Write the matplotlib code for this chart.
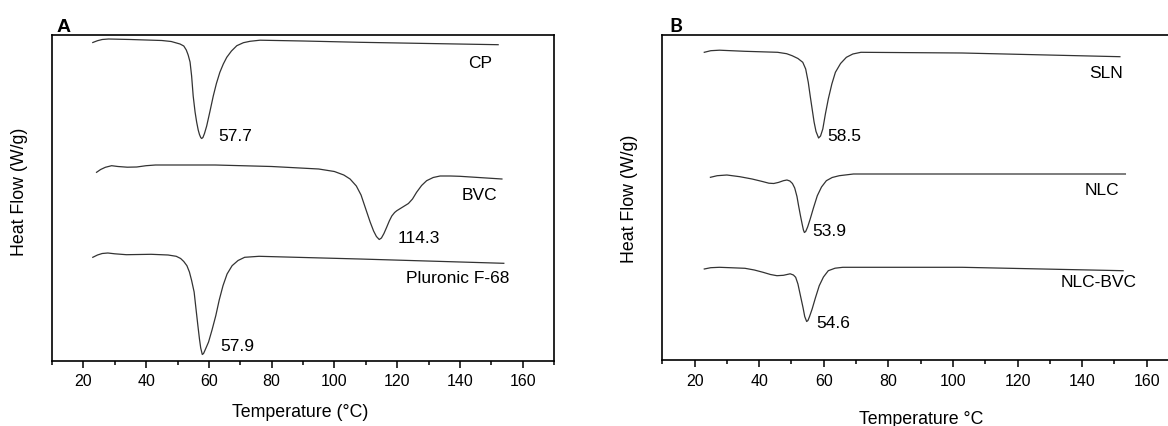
import matplotlib
matplotlib.use("Agg")
import matplotlib.pyplot as plt
from matplotlib.ticker import MultipleLocator, NullLocator

plt.rcParams['font.family'] = ['Liberation Sans', 'DejaVu Sans']

# ---------------- Panel A data ----------------
cp_T = [23.0, 24.5, 26.0, 28.0, 35.0, 45.0, 48.0, 50.8, 52.0, 52.8, 53.4, 54.0, 54.5, 55.0,
        55.6, 56.1, 56.6, 57.0, 57.4, 57.7, 58.1, 58.6, 59.3, 60.3, 61.4, 62.4, 63.5, 64.6,
        65.7, 67.2, 68.9, 71.0, 73.1, 76.3, 90.0, 108.1, 130.0, 152.2]
cp_y = [318.5, 320.3, 321.5, 322.0, 321.5, 320.5, 319.5, 317.0, 315.0, 311.0, 306.0, 299.0,
        285.0, 265.0, 249.0, 239.0, 231.0, 226.5, 223.5, 222.5, 223.5, 227.5, 235.0, 249.0,
        265.0, 277.5, 288.7, 297.0, 303.7, 310.0, 315.3, 318.3, 319.7, 320.8, 320.0, 318.7,
        317.5, 316.3]

bvc_T = [24.2, 25.5, 27.0, 29.0, 31.0, 34.0, 37.0, 40.0, 43.0, 62.0, 80.0, 95.0, 100.0,
         103.0, 105.0, 107.0, 108.5, 110.0, 111.4, 112.5, 113.4, 114.3, 115.0, 115.8, 116.7,
         117.5, 118.3, 119.2, 119.9, 121.8, 123.6, 124.9, 126.2, 127.8, 129.4, 131.5, 133.7,
         137.0, 140.0, 153.4]
bvc_y = [188.7, 191.5, 193.7, 195.3, 194.5, 193.8, 194.0, 195.3, 196.0, 196.0, 194.5, 192.0,
         189.5, 186.0, 182.0, 175.0, 166.0, 152.0, 139.0, 130.0, 124.5, 121.5, 123.0, 127.5,
         134.0, 140.0, 145.0, 148.5, 150.3, 154.0, 157.5, 162.0, 168.7, 175.5, 180.3, 183.5,
         185.0, 185.0, 184.7, 182.0]

plu_T = [23.0, 24.5, 26.0, 27.8, 30.0, 33.7, 41.6, 47.0, 49.6, 51.0, 52.0, 53.0, 53.8, 54.5,
         55.3, 55.9, 56.5, 57.0, 57.4, 57.9, 58.3, 58.8, 59.9, 61.0, 62.2, 63.3, 64.5, 65.8,
         67.4, 69.3, 71.4, 76.0, 108.1, 154.0]
plu_y = [103.7, 106.0, 107.5, 108.0, 107.2, 106.3, 106.7, 106.0, 104.7, 102.5, 99.5, 95.3,
         89.0, 80.5, 69.0, 52.0, 35.3, 22.0, 13.0, 6.5, 7.5, 11.0, 19.0, 31.0, 45.3, 61.0,
         75.3, 87.0, 95.3, 100.5, 103.7, 104.7, 102.0, 97.7]

names_A = ['CP', 'BVC', 'Pluronic F-68']
peaks_A = ['57.7', '114.3', '57.9']

# ---------------- Panel B data ----------------
sln_T = [23.0, 25.0, 27.7, 35.6, 45.7, 48.5, 50.2, 52.0, 53.5, 54.4, 55.2, 55.8, 56.4, 57.0,
         57.6, 58.4, 59.0, 59.7, 60.5, 61.4, 62.5, 63.6, 65.2, 67.0, 69.0, 71.5, 102.9, 151.7]
sln_y = [307.7, 309.3, 309.8, 308.7, 307.7, 306.3, 304.3, 301.5, 297.7, 291.0, 277.7, 264.0,
         251.0, 238.0, 228.5, 222.0, 224.0, 231.0, 246.0, 261.0, 276.0, 287.7, 296.5, 302.7,
         306.0, 307.7, 307.0, 303.3]

nlc_T = [24.9, 27.0, 30.0, 34.0, 37.8, 41.0, 43.0, 44.5, 46.0, 47.5, 48.6, 49.5, 50.3, 51.0,
         51.7, 52.2, 52.8, 53.3, 53.7, 54.0, 54.4, 55.0, 55.8, 56.8, 58.0, 59.3, 60.8, 62.6,
         64.8, 69.2, 102.9, 153.4]
nlc_y = [182.7, 184.3, 185.0, 183.3, 181.0, 178.5, 176.8, 176.5, 177.6, 179.3, 180.0, 179.0,
         176.5, 172.0, 163.5, 154.3, 144.0, 136.0, 130.0, 127.5, 128.5, 133.0, 141.0, 152.0,
         164.3, 173.0, 179.3, 182.5, 184.3, 186.0, 186.0, 186.0]

nb_T = [23.0, 25.0, 27.7, 31.0, 35.6, 38.5, 41.2, 43.5, 45.5, 47.5, 49.6, 50.6, 51.3, 52.0,
        52.6, 53.0, 53.6, 54.1, 54.7, 55.1, 55.6, 56.4, 57.4, 58.6, 59.9, 61.4, 63.5, 65.9,
        102.9, 152.7]
nb_y = [91.0, 92.3, 92.7, 92.3, 91.7, 90.0, 87.7, 85.5, 84.3, 84.7, 86.2, 85.0, 82.7, 76.0,
        67.0, 61.0, 52.0, 43.5, 38.5, 39.5, 43.5, 51.0, 62.0, 74.3, 83.0, 89.3, 91.8, 92.7,
        92.7, 89.3]

names_B = ['SLN', 'NLC', 'NLC-BVC']
peaks_B = ['58.5', '53.9', '54.6']

xticks = [20, 40, 60, 80, 100, 120, 140, 160]

W, H = 1168, 427
fig = plt.figure(figsize=(W / 100, H / 100), dpi=100)

line_kw = dict(color='#333333', lw=0.9)
lab_fs = 12.5
tick_fs = 11.5
axlab_fs = 12.8


def style(ax):
    ax.set_xlim(10, 170)
    ax.xaxis.set_minor_locator(MultipleLocator(10))
    ax.set_xticks(xticks)
    ax.yaxis.set_major_locator(NullLocator())
    ax.yaxis.set_minor_locator(NullLocator())
    ax.tick_params(axis='x', which='major', direction='out', length=5, width=1.1,
                   labelsize=tick_fs, pad=4)
    ax.tick_params(axis='x', which='minor', direction='out', length=3, width=1.1)
    for s in ax.spines.values():
        s.set_linewidth(1.2)
        s.set_color('black')


# Panel A
axA = fig.add_axes([52 / W, 1 - 362 / H, 502 / W, 326 / H])
style(axA)
axA.set_ylim(0, 326)
axA.plot(cp_T, cp_y, **line_kw)
axA.plot(bvc_T, bvc_y, **line_kw)
axA.plot(plu_T, plu_y, **line_kw)
axA.text(142.5, 298.7, names_A[0], fontsize=lab_fs, ha='left', va='center')
axA.text(140.5, 167.0, names_A[1], fontsize=lab_fs, ha='left', va='center')
axA.text(122.8, 83.7, names_A[2], fontsize=lab_fs, ha='left', va='center')
axA.text(63.1, 225.3, peaks_A[0], fontsize=lab_fs, ha='left', va='center')
axA.text(120.1, 123.7, peaks_A[1], fontsize=lab_fs, ha='left', va='center')
axA.text(63.5, 15.3, peaks_A[2], fontsize=lab_fs, ha='left', va='center')

# Panel B (right edge extends beyond the figure, as in the reference crop)
axB = fig.add_axes([662.3 / W, 1 - 361 / H, 516.7 / W, 325.5 / H])
style(axB)
axB.set_ylim(0, 325.5)
axB.plot(sln_T, sln_y, **line_kw)
axB.plot(nlc_T, nlc_y, **line_kw)
axB.plot(nb_T, nb_y, **line_kw)
axB.text(142.2, 287.7, names_B[0], fontsize=lab_fs, ha='left', va='center')
axB.text(140.9, 171.0, names_B[1], fontsize=lab_fs, ha='left', va='center')
axB.text(133.2, 78.3, names_B[2], fontsize=lab_fs, ha='left', va='center')
axB.text(61.2, 224.3, peaks_B[0], fontsize=lab_fs, ha='left', va='center')
axB.text(56.4, 129.3, peaks_B[1], fontsize=lab_fs, ha='left', va='center')
axB.text(57.8, 37.7, peaks_B[2], fontsize=lab_fs, ha='left', va='center')

# Axis labels and panel letters
fig.text(20 / W, 1 - 192 / H, 'Heat Flow (W/g)', rotation=90, fontsize=axlab_fs,
         ha='center', va='center')
fig.text(629 / W, 1 - 199 / H, 'Heat Flow (W/g)', rotation=90, fontsize=axlab_fs,
         ha='center', va='center')
fig.text(300 / W, 1 - 413 / H, 'Temperature (°C)', fontsize=axlab_fs, ha='center', va='center')
fig.text(921 / W, 1 - 420 / H, 'Temperature °C', fontsize=axlab_fs, ha='center', va='center')
fig.text(57 / W, 1 - 27 / H, 'A', fontsize=14, fontweight='bold', ha='left', va='center')
fig.text(669 / W, 1 - 26 / H, 'B', fontsize=14, fontweight='bold', ha='left', va='center',
         family=['Lato', 'DejaVu Sans'])

fig.savefig('out.png', dpi=100)
